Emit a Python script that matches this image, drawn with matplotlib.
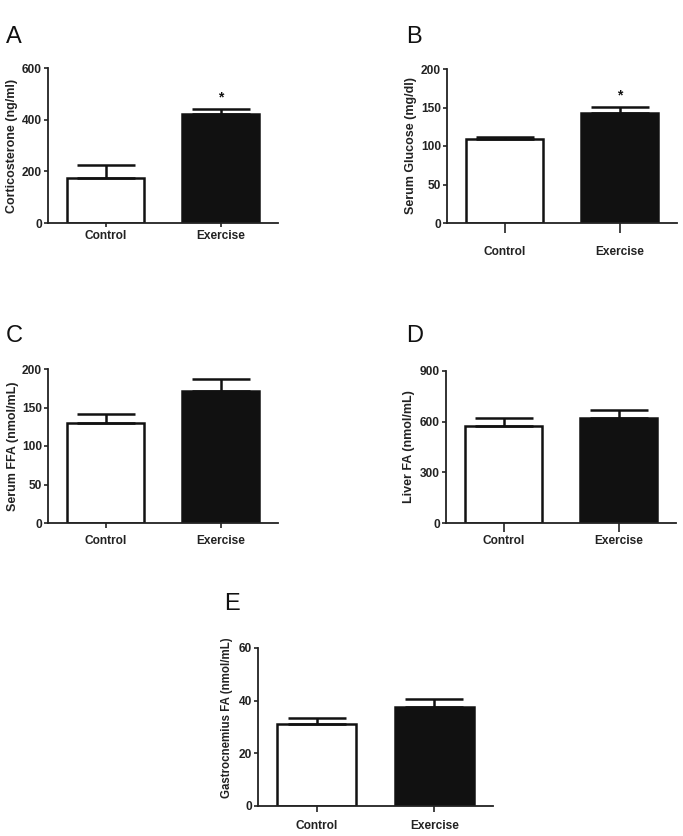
import matplotlib
matplotlib.use("Agg")
import matplotlib.pyplot as plt

plt.rcParams['font.family'] = ['Liberation Sans', 'DejaVu Sans']

groups = ["Control", "Exercise"]

cort_mean = [173, 421]
cort_err = [50, 20]
glucose_mean = [108.5, 142.5]
glucose_err = [3, 8]
ffa_mean = [129.5, 171]
ffa_err = [12.5, 16.5]
liver_mean = [574, 623]
liver_err = [45, 44]
gastro_mean = [31.1, 37.6]
gastro_err = [2.2, 2.9]

W, H = 683, 836
fig = plt.figure(figsize=(W / 100, H / 100), dpi=100)
PX = 72 / 100  # points per pixel


def panel(rect_px, means, errs, ylabel, ymax, yticks, letter, letter_xy,
          stars=(False, False), ticklen=4, labpad=3, ylab_x=-0.13, ylab_y=0.5, ylab_fs=9):
    left, right, top, bottom = rect_px
    ax = fig.add_axes([left / W, 1 - bottom / H, (right - left) / W, (bottom - top) / H])
    x = [0, 1]
    colors = ["white", "#111111"]
    ax.bar(x, means, width=0.67, color=colors, edgecolor="#111111", linewidth=1.8, zorder=2)
    ax.errorbar(x, means, yerr=[[0, 0], errs], fmt="none", ecolor="#111111",
                elinewidth=1.8, capsize=21, capthick=1.8, zorder=3)
    for i in range(2):
        if stars[i]:
            ax.text(x[i], means[i] + errs[i] + ymax * 0.03, "*", ha="center", va="bottom",
                    fontsize=10, fontweight="bold", color="#111111")
    ax.set_xlim(-0.5, 1.5)
    ax.set_ylim(0, ymax)
    ax.set_yticks(yticks)
    ax.set_xticks(x)
    ax.set_xticklabels(groups)
    for s in ["top", "right"]:
        ax.spines[s].set_visible(False)
    for s in ["left", "bottom"]:
        ax.spines[s].set_linewidth(1.3)
        ax.spines[s].set_color("#222222")
    ax.tick_params(axis="y", length=4 * PX, width=1.2, pad=1.5, labelsize=8.6, colors="#222222")
    ax.tick_params(axis="x", length=ticklen * PX, width=1.2, pad=labpad * PX * 1.4, labelsize=8.6,
                   colors="#222222")
    for t in ax.get_xticklabels() + ax.get_yticklabels():
        t.set_fontweight("bold")
    ax.set_ylabel(ylabel, fontsize=ylab_fs, fontweight="bold", color="#222222")
    ax.yaxis.set_label_coords(ylab_x, ylab_y)
    fig.text(letter_xy[0] / W, 1 - letter_xy[1] / H, letter, fontsize=17,
             ha="left", va="center", color="#111111")
    return ax


panel((48, 278, 68, 223), cort_mean, cort_err, "Corticosterone (ng/ml)", 600,
      [0, 200, 400, 600], "A", (6, 37), stars=(False, True), ticklen=4, labpad=2, ylab_x=-0.13)
panel((447, 677, 69, 223), glucose_mean, glucose_err, "Serum Glucose (mg/dl)", 200,
      [0, 50, 100, 150, 200], "B", (406, 37), stars=(False, True), ticklen=10, labpad=9, ylab_x=-0.13)
panel((48, 278, 369, 523), ffa_mean, ffa_err, "Serum FFA (nmol/mL)", 200,
      [0, 50, 100, 150, 200], "C", (6, 336), ticklen=5, labpad=5, ylab_x=-0.126)
panel((446, 676, 371, 523), liver_mean, liver_err, "Liver FA (nmol/mL)", 900,
      [0, 300, 600, 900], "D", (406, 336), ticklen=9, labpad=2.5, ylab_x=-0.135)
panel((258, 493, 648, 806), gastro_mean, gastro_err, "Gastrocnemius FA (nmol/mL)", 60,
      [0, 20, 40, 60], "E", (224, 604), ticklen=6, labpad=6, ylab_x=-0.106,
      ylab_y=0.56, ylab_fs=8.3)

fig.savefig("out.png", dpi=100, facecolor="white")
